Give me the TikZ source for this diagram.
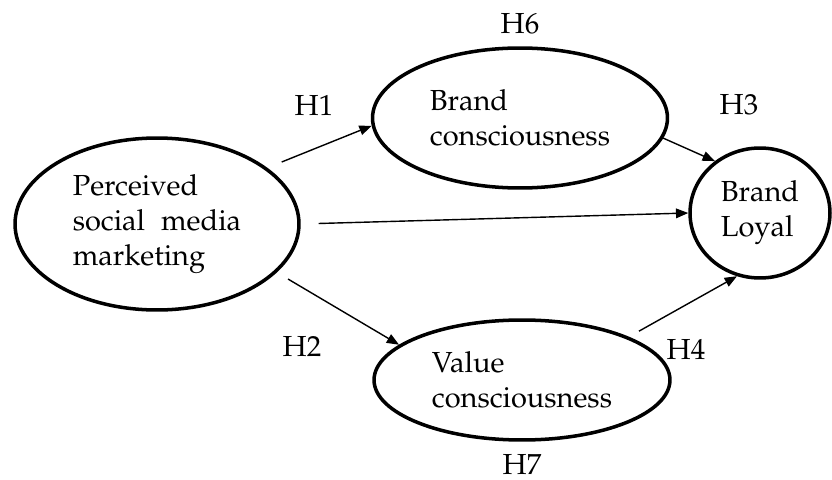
\documentclass[tikz,border=0pt]{standalone}
\usepackage[T1]{fontenc}
\usepackage{mathpazo}
\usepackage{tikz}
\usetikzlibrary{arrows.meta,positioning,shapes.geometric}

\begin{document}
\begin{tikzpicture}[x=0.02cm,y=-0.02cm,
  construct/.style={ellipse,draw,line width=2pt,align=left,inner sep=0pt,
    font=\fontsize{16.5}{20}\selectfont},
  effect/.style={-{Triangle[length=7pt,width=5.5pt]},line width=0.8pt},
  hyp/.style={font=\fontsize{16.5}{20}\selectfont}]
  \useasboundingbox (0,0) rectangle (832,480);
  \node[construct,minimum width=5.68cm,minimum height=3.44cm] (smm) at (157,224)
    {Perceived\\social\hspace{0.3em} media\\marketing};
  \node[construct,minimum width=5.9cm,minimum height=2.8cm] (bc) at (520,118)
    {Brand\\consciousness};
  \node[construct,minimum width=5.92cm,minimum height=2.4cm] (vc) at (522,380)
    {Value\\consciousness};
  \node[construct,minimum width=2.8cm,minimum height=2.6cm] (bl) at (760,213)
    {Brand\\Loyal};
  \draw[effect,shorten <=0.31cm] (smm.27) -- (bc.183);
  \draw[effect,shorten <=0.36cm] (smm.east) -- (bl.west);
  \draw[effect,shorten <=0.26cm] (smm.338) -- (vc.164);
  \draw[effect] (bc.352) -- (bl.131);
  \draw[effect,shorten <=0.23cm] (vc.22) -- (bl.250);
  \node[hyp,above=0.12cm of bc] (h6) {H6};
  \node[hyp,below=0.12cm of vc] (h7) {H7};
  \node[hyp] (h1) at (314,105) {H1};
  \node[hyp] (h2) at (302,346) {H2};
  \node[hyp] (h3) at (739,105) {H3};
  \node[hyp] (h4) at (686,349) {H4};
\end{tikzpicture}
\end{document}
